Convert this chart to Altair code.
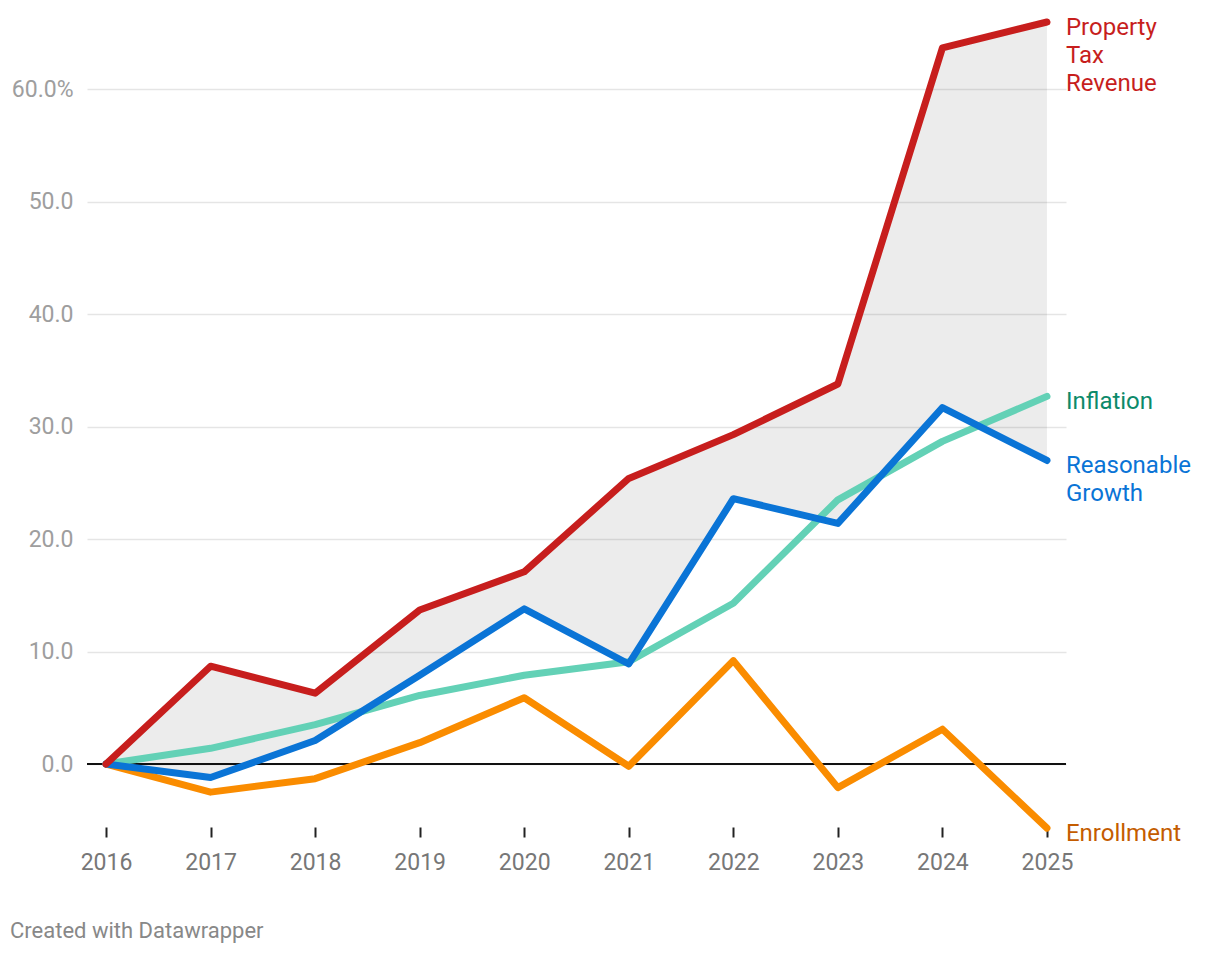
import altair as alt
import pandas as pd

years = [2016, 2017, 2018, 2019, 2020, 2021, 2022, 2023, 2024, 2025]
property_tax = [0.0, 8.7, 6.3, 13.7, 17.1, 25.4, 29.3, 33.8, 63.7, 66.0]
inflation = [0.0, 1.4, 3.5, 6.1, 7.9, 9.1, 14.3, 23.5, 28.7, 32.7]
reasonable = [0.0, -1.2, 2.1, 7.9, 13.8, 8.9, 23.6, 21.4, 31.7, 27.0]
enrollment = [0.0, -2.5, -1.3, 1.9, 5.9, -0.2, 9.2, -2.1, 3.1, -5.7]

series_names = ["Inflation", "Enrollment", "Reasonable Growth", "Property Tax Revenue"]
series_values = [inflation, enrollment, reasonable, property_tax]
line_colors = ["#63d1b6", "#fa8c00", "#0a74d6", "#c71e1d"]
label_colors = ["#0c8a6a", "#c45c00", "#0a74d6", "#c71e1d"]
label_lines = [["Inflation"], ["Enrollment"], ["Reasonable", "Growth"], ["Property", "Tax", "Revenue"]]

y_ticks = [0, 10, 20, 30, 40, 50, 60]
footer = "Created with Datawrapper"

FONT = "Roboto"

long_rows = []
for name, vals, col in zip(series_names, series_values, line_colors):
    for yr, v in zip(years, vals):
        long_rows.append({"year": yr, "value": v, "series": name, "color": col})
long_df = pd.DataFrame(long_rows)

wide_df = pd.DataFrame({"year": years, "top": property_tax, "bottom": reasonable})

label_df = pd.DataFrame({
    "year": [years[-1]] * 4,
    "value": [s[-1] for s in series_values],
    "label": label_lines,
    "color": label_colors,
})

x_scale = alt.Scale(domain=[2015.818, 2025.182], nice=False, zero=False)
y_scale = alt.Scale(domain=[-5.6, 66.0], nice=False, zero=False)

x_axis = alt.Axis(
    values=years, format="d", domain=False, grid=False,
    ticks=True, tickColor="#222222", tickWidth=2, tickSize=10,
    labelFont=FONT, labelFontSize=23, labelColor="#777777", labelPadding=14,
    title=None,
)
y_axis = alt.Axis(
    values=y_ticks, domain=False, ticks=False, grid=True,
    gridColor="#e5e5e5", gridWidth=1.5,
    labelFont=FONT, labelFontSize=23, labelColor="#9e9e9e", labelPadding=14,
    labelExpr="datum.value == 60 ? '60.0%' : format(datum.value, '.1f')",
    title=None,
)

area = alt.Chart(wide_df).mark_area(color="#000000", opacity=0.075).encode(
    x=alt.X("year:Q", scale=x_scale, axis=x_axis),
    y=alt.Y("top:Q", scale=y_scale, axis=y_axis),
    y2="bottom:Q",
)

zero_df = pd.DataFrame({"v": [0]})
zero = alt.Chart(zero_df).mark_rule(color="#111111", strokeWidth=2).encode(
    y=alt.Y("v:Q", scale=y_scale),
)

lines = alt.Chart(long_df).mark_line(strokeWidth=7, strokeCap="round", strokeJoin="round").encode(
    x=alt.X("year:Q", scale=x_scale),
    y=alt.Y("value:Q", scale=y_scale),
    color=alt.Color("color:N", scale=None, legend=None),
    detail="series:N",
    order=alt.Order("year:Q"),
)

labels = alt.Chart(label_df).mark_text(
    align="left", baseline="top", dx=19, dy=-6, font=FONT, fontSize=24, lineHeight=28,
).encode(
    x=alt.X("year:Q", scale=x_scale),
    y=alt.Y("value:Q", scale=y_scale),
    text="label",
    color=alt.Color("color:N", scale=None, legend=None),
)

foot_df = pd.DataFrame({"t": [footer]})
foot = alt.Chart(foot_df).mark_text(
    align="left", baseline="middle", font=FONT, fontSize=22, color="#888888",
).encode(
    x=alt.value(-77),
    y=alt.value(909),
    text="t:N",
)

chart = alt.layer(area, zero, lines, labels, foot).properties(
    width=979, height=805,
    background="white",
    autosize=alt.AutoSizeParams(type="none"),
    padding={"left": 87, "top": 22, "right": 154, "bottom": 127},
).configure_view(strokeWidth=0, stroke=None)

chart.save("out.html", embed_options={"renderer": "svg", "actions": False})
